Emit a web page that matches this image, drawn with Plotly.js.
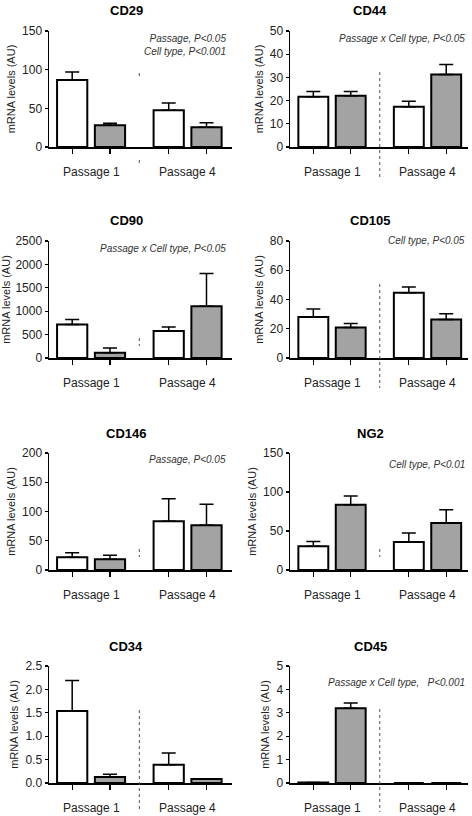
<!DOCTYPE html>
<html>
<head>
<meta charset="utf-8">
<script src="https://cdn.plot.ly/plotly-3.0.1.min.js"></script>
<style>html,body{margin:0;padding:0;background:#fff;}#chart{width:472px;height:816px;}</style>
</head>
<body>
<div id="chart"></div>
<script>
// ---------- DATA ----------
var genes = ["CD29", "CD44", "CD90", "CD105", "CD146", "NG2", "CD34", "CD45"];
var categories = ["Passage 1", "Passage 4"];

// white bars (cell type A) and grey bars (cell type B): mean and upper error
var cd29White = [86.5, 47.5],   cd29WhiteErr = [10.5, 9.5];
var cd29Grey  = [28, 25.5],     cd29GreyErr  = [2.7, 6];
var cd44White = [21.7, 17.4],   cd44WhiteErr = [2.2, 2.3];
var cd44Grey  = [22.1, 31.3],   cd44GreyErr  = [1.8, 4.3];
var cd90White = [714, 579],     cd90WhiteErr = [107, 85];
var cd90Grey  = [114, 1107],    cd90GreyErr  = [100, 700];
var cd105White = [28, 44.7],    cd105WhiteErr = [5.5, 3.9];
var cd105Grey  = [20.9, 26.4],  cd105GreyErr  = [2.7, 3.9];
var cd146White = [21.6, 83.5],  cd146WhiteErr = [7.9, 38.1];
var cd146Grey  = [18.2, 76.7],  cd146GreyErr  = [6.8, 35.8];
var ng2White = [30.5, 36],      ng2WhiteErr = [5.9, 11.5];
var ng2Grey  = [83.5, 60.2],    ng2GreyErr  = [11.4, 16.9];
var cd34White = [1.54, 0.39],   cd34WhiteErr = [0.65, 0.25];
var cd34Grey  = [0.128, 0.085], cd34GreyErr  = [0.057, 0.005];
var cd45White = [0.02, 0],      cd45WhiteErr = [0, 0];
var cd45Grey  = [3.19, 0],      cd45GreyErr  = [0.23, 0];

var yMax  = [150, 50, 2500, 80, 200, 150, 2.5, 5];
var yStep = [50, 10, 500, 20, 50, 50, 0.5, 1];
var stats = [
  "Passage, P<0.05<br>Cell type, P<0.001",
  "Passage x Cell type, P<0.05",
  "Passage x Cell type, P<0.05",
  "Cell type, P<0.05",
  "Passage, P<0.05",
  "Cell type, P<0.01",
  "",
  "Passage x Cell type,&nbsp;&nbsp;&nbsp;P<0.001"
];

var whiteSeries = [cd29White, cd44White, cd90White, cd105White, cd146White, ng2White, cd34White, cd45White];
var whiteErrs   = [cd29WhiteErr, cd44WhiteErr, cd90WhiteErr, cd105WhiteErr, cd146WhiteErr, ng2WhiteErr, cd34WhiteErr, cd45WhiteErr];
var greySeries  = [cd29Grey, cd44Grey, cd90Grey, cd105Grey, cd146Grey, ng2Grey, cd34Grey, cd45Grey];
var greyErrs    = [cd29GreyErr, cd44GreyErr, cd90GreyErr, cd105GreyErr, cd146GreyErr, ng2GreyErr, cd34GreyErr, cd45GreyErr];

// ---------- LAYOUT HELPERS ----------
var W = 472, H = 816;
function px(p) { return p / W; }
function py(p) { return 1 - p / H; }
var FONT = "Liberation Sans, Arial, sans-serif";

// panel geometry in pixels: [x0, x1, yTop, yBottom]
var colX = [[49, 232], [290, 468]];
var rowY = [[31, 147], [241, 358], [453, 570], [666, 783]];
var xRanges = [[-0.436, 1.46], [-0.44, 1.424]];
var titleX = [126, 370];
var statX = [228, 467];
var statY = [[45, 38], [248, 240], [459, 464], [null, 682]];
var dividers = [
  [[73, 77], [160, 164]],
  [[72, 178]],
  [[338, 346]],
  [[284, 388]],
  [[549, 557]],
  [[549, 557]],
  [[710, 812]],
  [[709, 812]]
];

var traces = [];
var layout = {
  width: W, height: H,
  margin: {l: 0, r: 0, t: 0, b: 0},
  paper_bgcolor: "#fff", plot_bgcolor: "#fff",
  showlegend: false,
  barmode: "group",
  bargap: 0.217,
  bargroupgap: 0.2,
  font: {family: FONT, color: "#000"},
  annotations: [],
  shapes: []
};

var half = 0.196;
genes.forEach(function (g, i) {
  var col = i % 2, row = Math.floor(i / 2);
  var n = i === 0 ? "" : String(i + 1);
  var xa = "x" + n, ya = "y" + n;
  var xs = categories.map(function (c, k) { return k; });

  traces.push({
    type: "bar", x: xs, y: whiteSeries[i], xaxis: xa, yaxis: ya,
    marker: {color: "#ffffff", line: {color: "#000", width: 2}},
    error_y: {type: "data", symmetric: false, array: whiteErrs[i],
              arrayminus: whiteErrs[i].map(function () { return 0; }),
              color: "#000", thickness: 1.5, width: 7, visible: true},
    name: g + " white", hoverinfo: "y"
  });
  traces.push({
    type: "bar", x: xs, y: greySeries[i], xaxis: xa, yaxis: ya,
    marker: {color: "#a3a3a3", line: {color: "#000", width: 2}},
    error_y: {type: "data", symmetric: false, array: greyErrs[i],
              arrayminus: greyErrs[i].map(function () { return 0; }),
              color: "#000", thickness: 1.5, width: 7, visible: true},
    name: g + " grey", hoverinfo: "y"
  });

  var tv = [];
  xs.forEach(function (k) { tv.push(k - half, k + half); });

  layout["xaxis" + n] = {
    domain: [px(colX[col][0]), px(colX[col][1])],
    anchor: ya, range: xRanges[col],
    showline: true, linecolor: "#000", linewidth: 1.5,
    showgrid: false, zeroline: false,
    ticks: "outside", ticklen: 5, tickwidth: 1.2, tickcolor: "#000",
    tickvals: tv, showticklabels: false, fixedrange: true
  };
  var ticks = [];
  for (var t = 0; t <= yMax[i] + 1e-9; t += yStep[i]) ticks.push(+t.toFixed(3));
  layout["yaxis" + n] = {
    domain: [py(rowY[row][1]), py(rowY[row][0])],
    anchor: xa, range: [0, yMax[i]],
    showline: true, linecolor: "#000", linewidth: 1.5,
    showgrid: false, zeroline: false,
    ticks: "outside", ticklen: 3, tickwidth: 1.2, tickcolor: "#000",
    tickvals: ticks, tickformat: (i === 6 ? ".1f" : "d"),
    tickfont: {family: FONT, size: 12, color: "#222"},
    title: {text: "mRNA levels (AU)", font: {family: FONT, size: 11, color: "#222"}, standoff: 4},
    fixedrange: true
  };

  // panel title
  layout.annotations.push({
    xref: "paper", yref: "paper", x: px(titleX[col]), y: py(rowY[row][0] - 20),
    text: "<b>" + g + "</b>", showarrow: false, xanchor: "center", yanchor: "middle",
    font: {family: FONT, size: 13, color: "#000"}
  });
  // category labels
  categories.forEach(function (c, k) {
    layout.annotations.push({
      xref: xa, yref: "paper", x: k, y: py(rowY[row][1] + 25),
      text: c, showarrow: false, xanchor: "center", yanchor: "middle",
      font: {family: FONT, size: 12, color: "#222"}
    });
  });
  // statistics note
  if (stats[i]) {
    layout.annotations.push({
      xref: "paper", yref: "paper", x: px(statX[col]), y: py(statY[row][col]),
      text: "<i>" + stats[i] + "</i>", showarrow: false, xanchor: "right", yanchor: "middle",
      align: "right", font: {family: FONT, size: 10, color: "#333"}
    });
  }
  // dotted divider between passages
  dividers[i].forEach(function (seg) {
    layout.shapes.push({
      type: "line", xref: xa, yref: "paper", x0: 0.5, x1: 0.5,
      y0: py(seg[0]), y1: py(seg[1]),
      line: {color: "#555", width: 1, dash: "dot"}
    });
  });
});

Plotly.newPlot("chart", traces, layout, {displayModeBar: false, staticPlot: true});
</script>
</body>
</html>
